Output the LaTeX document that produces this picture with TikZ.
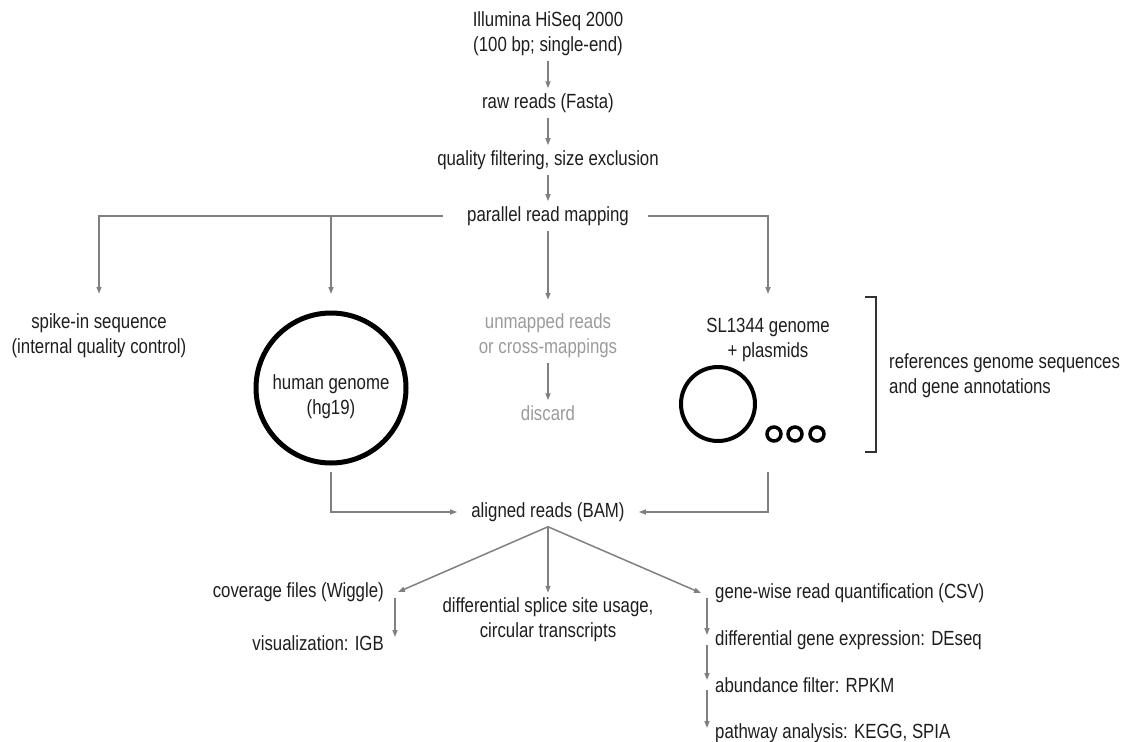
\documentclass[tikz,border=0pt]{standalone}
\usepackage{fontspec}
\setmainfont{Liberation Sans}[FakeStretch=0.82]
\usetikzlibrary{positioning,arrows.meta,fit}
\definecolor{flowgray}{RGB}{128,128,128}
\definecolor{textdark}{RGB}{30,30,30}
\definecolor{textlight}{RGB}{155,155,155}
\definecolor{bracketgray}{RGB}{50,50,50}

\begin{document}
\begin{tikzpicture}[x=1pt, y=-1pt,
    txt/.style={inner xsep=14pt, inner ysep=5pt, align=center, text=textdark, font=\fontsize{20.5}{25}\selectfont},
    arr/.style={draw=flowgray, line width=1.5pt, -{Triangle[length=7pt,width=5pt]}},
    flow/.style={draw=flowgray, line width=1.5pt},
    ring/.style={draw=black, circle, inner sep=0pt}]
  \useasboundingbox (0,0) rectangle (1128,742);
  % Sequencing and preprocessing
  \node[txt] (seq) at (548,34) {Illumina HiSeq 2000\\(100 bp; single-end)};
  \node[txt] (raw) at (548,103) {raw reads (Fasta)};
  \node[txt] (qual) at (548,160) {quality filtering, size exclusion};
  \node[txt] (map) at (548,216) {parallel read mapping};
  \draw[arr] (seq) -- (raw);
  \draw[arr] (raw) -- (qual);
  \draw[arr] (qual) -- (map);
  % Mapping targets
  \node[txt] (spike) at (99,336) {spike-in sequence\\(internal quality control)};
  \node[ring, minimum size=150pt, line width=5pt] (hg) at (331,388) {};
  \node[txt] (hgtext) at (331,397) {human genome\\(hg19)};
  \node[txt, text=textlight] (unmap) at (548,336) {unmapped reads\\or cross-mappings};
  \node[txt, text=textlight] (discard) at (548,413) {discard};
  \node[txt] (sltext) at (768,340) {SL1344 genome\\+ plasmids};
  \node[ring, minimum size=74pt, line width=4pt] (slbig) at (718,404) {};
  \node[ring, minimum size=14pt, line width=3.5pt] (slp1) at (774,434) {};
  \node[ring, minimum size=14pt, line width=3.5pt] (slp2) at (795,434) {};
  \node[ring, minimum size=14pt, line width=3.5pt] (slp3) at (817,434) {};
  \node[fit=(sltext)(slbig)(slp3), inner sep=0pt] (slgrp) {};
  \draw[arr, shorten <=10pt, shorten >=15pt] (map.west) -| (spike.north);
  \draw[arr, shorten >=16.5pt] (map.west -| hg.north) -- (hg.north);
  \draw[arr, shorten >=9pt] (map) -- (unmap);
  \draw[arr] (unmap) -- (discard);
  \draw[arr, shorten <=5pt, shorten >=19pt] (map.east) -| (sltext.north);
  % Reference bracket
  \coordinate (brtop) at (865,297);
  \coordinate (brbot) at (865,452);
  \draw[bracketgray, line width=1.5pt] (brtop) -- ++(11,0) -- ++(0,155) -- (brbot);
  \node[txt, anchor=west, align=left, inner xsep=0pt] (refs) at (889,376) {references genome sequences\\and gene annotations};
  % Alignment
  \node[txt] (bam) at (548,512) {aligned reads (BAM)};
  \draw[arr, shorten <=6.5pt] (hg.south) |- (bam.west);
  \draw[arr, shorten <=29pt] (sltext |- slgrp.south) |- (bam.east);
  % Downstream analyses
  \node[txt, anchor=east] (cov) at (398,592) {coverage files (Wiggle)};
  \node[txt, anchor=east] (vis) at (398,643) {visualization: IGB};
  \node[txt] (splice) at (548,620) {differential splice site usage,\\circular transcripts};
  \node[txt, anchor=west] (gene) at (701,593) {gene-wise read quantification (CSV)};
  \node[txt, anchor=west] (deseq) at (701,640) {differential gene expression: DEseq};
  \node[txt, anchor=west] (rpkm) at (701,685) {abundance filter: RPKM};
  \node[txt, anchor=west] (path) at (701,733) {pathway analysis: KEGG, SPIA};
  \draw[arr] (bam.south) -- (cov.east);
  \draw[arr] (bam.south) -- (splice.north);
  \draw[arr] (bam.south) -- (gene.west);
  \draw[arr] ([xshift=-3pt,yshift=-6pt]cov.east) -- ([xshift=-3pt,yshift=6pt]vis.east);
  \draw[arr] ([xshift=6pt,yshift=-5pt]gene.west) -- ([xshift=6pt,yshift=5pt]deseq.west);
  \draw[arr] ([xshift=6pt,yshift=-5pt]deseq.west) -- ([xshift=6pt,yshift=5pt]rpkm.west);
  \draw[arr] ([xshift=6pt,yshift=-5pt]rpkm.west) -- ([xshift=6pt,yshift=5pt]path.west);
\end{tikzpicture}
\end{document}
